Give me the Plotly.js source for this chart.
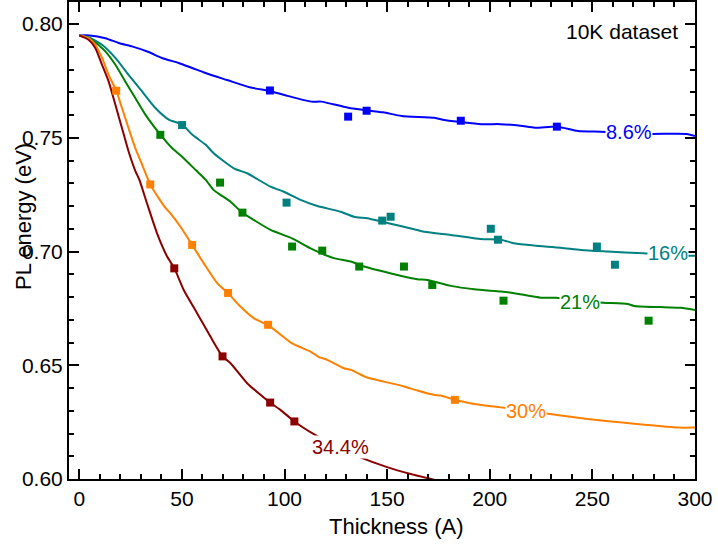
<!DOCTYPE html>
<html>
<head>
<meta charset="utf-8">
<script src="https://cdn.plot.ly/plotly-3.0.1.min.js"></script>
<style>html,body{margin:0;padding:0;background:#fff;}#chart{width:718px;height:548px;}</style>
</head>
<body>
<div id="chart"></div>
<script>
// Model curves (thickness in A, PL energy in eV)
const blueX = [0,5,12.7,19.2,25.7,33.8,40.3,48.4,55,61.5,72,83,93,100,113,118,131,148,157,173,178,196,205,215,222,233,243,254,266,278,296,300];
const blueY = [0.795,0.795,0.7938,0.7917,0.7902,0.7877,0.7851,0.7829,0.7807,0.7785,0.7754,0.7722,0.7705,0.7688,0.7659,0.7659,0.7632,0.7612,0.7596,0.7588,0.7578,0.756,0.756,0.7553,0.7544,0.7549,0.753,0.7527,0.7522,0.7517,0.7517,0.7508];

const tealX = [0,4.5,11.1,17.6,24,30.6,37.1,43.6,50.1,55,61.5,65.5,75.3,81.8,93.2,99.7,107.8,116,127.3,133.8,140.3,147.7,156.6,168,181,195.6,205.4,211.9,221.6,234.6,244.4,257.4,274.8,285,294.8,300];
const tealY = [0.795,0.7942,0.7909,0.7851,0.7777,0.7704,0.7631,0.758,0.7558,0.7514,0.747,0.7432,0.7366,0.7344,0.7285,0.7263,0.7227,0.72,0.7175,0.7153,0.7146,0.7131,0.7112,0.7087,0.7073,0.7055,0.7052,0.7036,0.7026,0.7017,0.7007,0.7,0.6992,0.6987,0.6982,0.6981];

const greenX = [0,6.2,12.7,17.6,22.4,27.3,32.2,39.5,45.2,49.7,57,61.5,65.5,68.8,73.7,79.4,85,93.2,103.7,112.7,124,132.2,138.7,155,164.7,169.6,181,192.4,205.4,211.9,224.9,232.2,243,253.3,267.2,270.4,285,293.2,300];
const greenY = [0.795,0.7931,0.788,0.7821,0.7748,0.7675,0.7602,0.7514,0.7455,0.742,0.7356,0.7316,0.727,0.7249,0.7219,0.7171,0.7139,0.7095,0.7058,0.7014,0.6971,0.6956,0.6934,0.6897,0.6878,0.6875,0.6849,0.6834,0.6824,0.6817,0.6797,0.6797,0.6787,0.6776,0.6769,0.6761,0.6755,0.6753,0.6743];

const orangeX = [0,4.5,7.8,11.1,14.3,18,20.8,24,27.3,30.6,34.6,38.7,42,44.4,49.3,55,60.6,67.2,72.5,78.5,85,93,103.5,112.7,116.8,120.8,128.9,132.2,140.3,148.5,158.2,164.7,172.8,176.1,183,192.3,204.5,215,225.7,234.6,247.6,259,270.4,280.2,291.6,300];
const orangeY = [0.795,0.7938,0.7909,0.7851,0.7777,0.7707,0.7631,0.7543,0.7455,0.7382,0.7294,0.7235,0.7192,0.7168,0.7109,0.7029,0.6949,0.6861,0.6817,0.6758,0.6707,0.667,0.6597,0.656,0.6536,0.6524,0.6487,0.648,0.6446,0.6428,0.6407,0.6389,0.637,0.6367,0.6348,0.633,0.6316,0.6303,0.629,0.6279,0.6264,0.6253,0.6243,0.6235,0.6226,0.6226];

const redX = [0,4.5,7.8,11.1,14.3,17.6,20.8,24,27.3,29.3,33,37.9,42.8,46.3,50.9,57.4,63.9,69.7,73.7,81.8,88.3,92.9,98,104.8,114.3,125,137,150,161.5,172.8,176];
const redY = [0.795,0.7931,0.7895,0.7821,0.7748,0.7645,0.7543,0.7441,0.7355,0.7315,0.7212,0.708,0.6978,0.6927,0.6831,0.6729,0.6626,0.654,0.6509,0.6421,0.637,0.6336,0.6304,0.6253,0.6197,0.6145,0.6095,0.6052,0.6022,0.5997,0.599];

// Measured data points
const blueMX = [92.9,131,140,185.9,232.7];
const blueMY = [0.7708,0.7593,0.7619,0.7575,0.7549];
const tealMX = [50.1,101,147.6,151.7,200.5,204,252.2,261];
const tealMY = [0.7556,0.7215,0.7136,0.7153,0.7100,0.7052,0.7022,0.6942];
const greenMX = [39.5,68.6,79.5,103.7,118.4,136.4,158.2,172,206.7,277.4];
const greenMY = [0.7513,0.7303,0.7171,0.7022,0.7004,0.6934,0.6934,0.6853,0.6784,0.6696];
const orangeMX = [18,34.6,55,72.5,92,183];
const orangeMY = [0.7707,0.7295,0.7029,0.6818,0.6678,0.6348];
const redMX = [46.3,69.8,93.0,104.8];
const redMY = [0.6926,0.6539,0.6336,0.6253];

// Curve labels
const labelText = ['8.6%','16%','21%','30%','34.4%'];
const labelX = [268,286.8,243.9,217.6,127.3];
const labelY = [0.7527,0.6992,0.678,0.6297,0.6139];

const colors = ['#0000ff','#008080','#008000','#ff8000','#8b0000'];
const FONT = 'Liberation Sans, Arial, Helvetica, sans-serif';

const curves = [[blueX,blueY],[tealX,tealY],[greenX,greenY],[orangeX,orangeY],[redX,redY]];
const marks = [[blueMX,blueMY],[tealMX,tealMY],[greenMX,greenMY],[orangeMX,orangeMY],[redMX,redMY]];

const traces = [];
curves.forEach((c,i)=>{
  traces.push({x:c[0], y:c[1], type:'scatter', mode:'lines', line:{color:colors[i], width:2, shape:'spline', smoothing:0.6}, hoverinfo:'skip', showlegend:false});
});
marks.forEach((m,i)=>{
  traces.push({x:m[0], y:m[1], type:'scatter', mode:'markers', marker:{symbol:'square', size:8, color:colors[i]}, showlegend:false});
});

const annotations = labelText.map((t,i)=>({
  x:labelX[i], y:labelY[i], xref:'x', yref:'y', text:t, showarrow:false,
  font:{family:FONT, size:20, color:colors[i]}, bgcolor:'#ffffff', borderpad:0,
  xanchor:'center', yanchor:'middle'
}));
annotations.push({x:0.8826, y:0.939, xref:'paper', yref:'paper', text:'10K dataset', showarrow:false,
  font:{family:FONT, size:21, color:'#000'}, xanchor:'center', yanchor:'middle'});
annotations.push({x:0.523, y:-0.1006, xref:'paper', yref:'paper', text:'Thickness (A)', showarrow:false,
  font:{family:FONT, size:22, color:'#000'}, xanchor:'center', yanchor:'middle'});
annotations.push({x:-0.0719, y:0.5514, xref:'paper', yref:'paper', text:'PL energy (eV)', showarrow:false, textangle:-90,
  font:{family:FONT, size:22, color:'#000'}, xanchor:'center', yanchor:'middle'});

const layout = {
  width:718, height:548,
  margin:{l:69, r:23, t:2, b:69, pad:0},
  paper_bgcolor:'#fff', plot_bgcolor:'#fff',
  font:{family:FONT, color:'#000'},
  xaxis:{range:[-5,300], tick0:0, dtick:50, ticks:'inside', ticklen:10, tickwidth:2, tickcolor:'#000',
    showline:true, linewidth:2, linecolor:'#000', mirror:'allticks', showgrid:false, zeroline:false,
    tickfont:{family:FONT, size:21, color:'#000'},
    minor:{dtick:10, tick0:0, ticks:'inside', ticklen:5, tickwidth:2, tickcolor:'#000', showgrid:false}},
  yaxis:{range:[0.60,0.8097], tick0:0.6, dtick:0.05, tickformat:'.2f', ticks:'inside', ticklen:10, tickwidth:2, tickcolor:'#000',
    showline:true, linewidth:2, linecolor:'#000', mirror:'allticks', showgrid:false, zeroline:false,
    tickfont:{family:FONT, size:21, color:'#000'},
    minor:{dtick:0.01, tick0:0.6, ticks:'inside', ticklen:5, tickwidth:2, tickcolor:'#000', showgrid:false}},
  annotations:annotations,
  showlegend:false
};

Plotly.newPlot('chart', traces, layout, {displayModeBar:false, staticPlot:true});
</script>
</body>
</html>
